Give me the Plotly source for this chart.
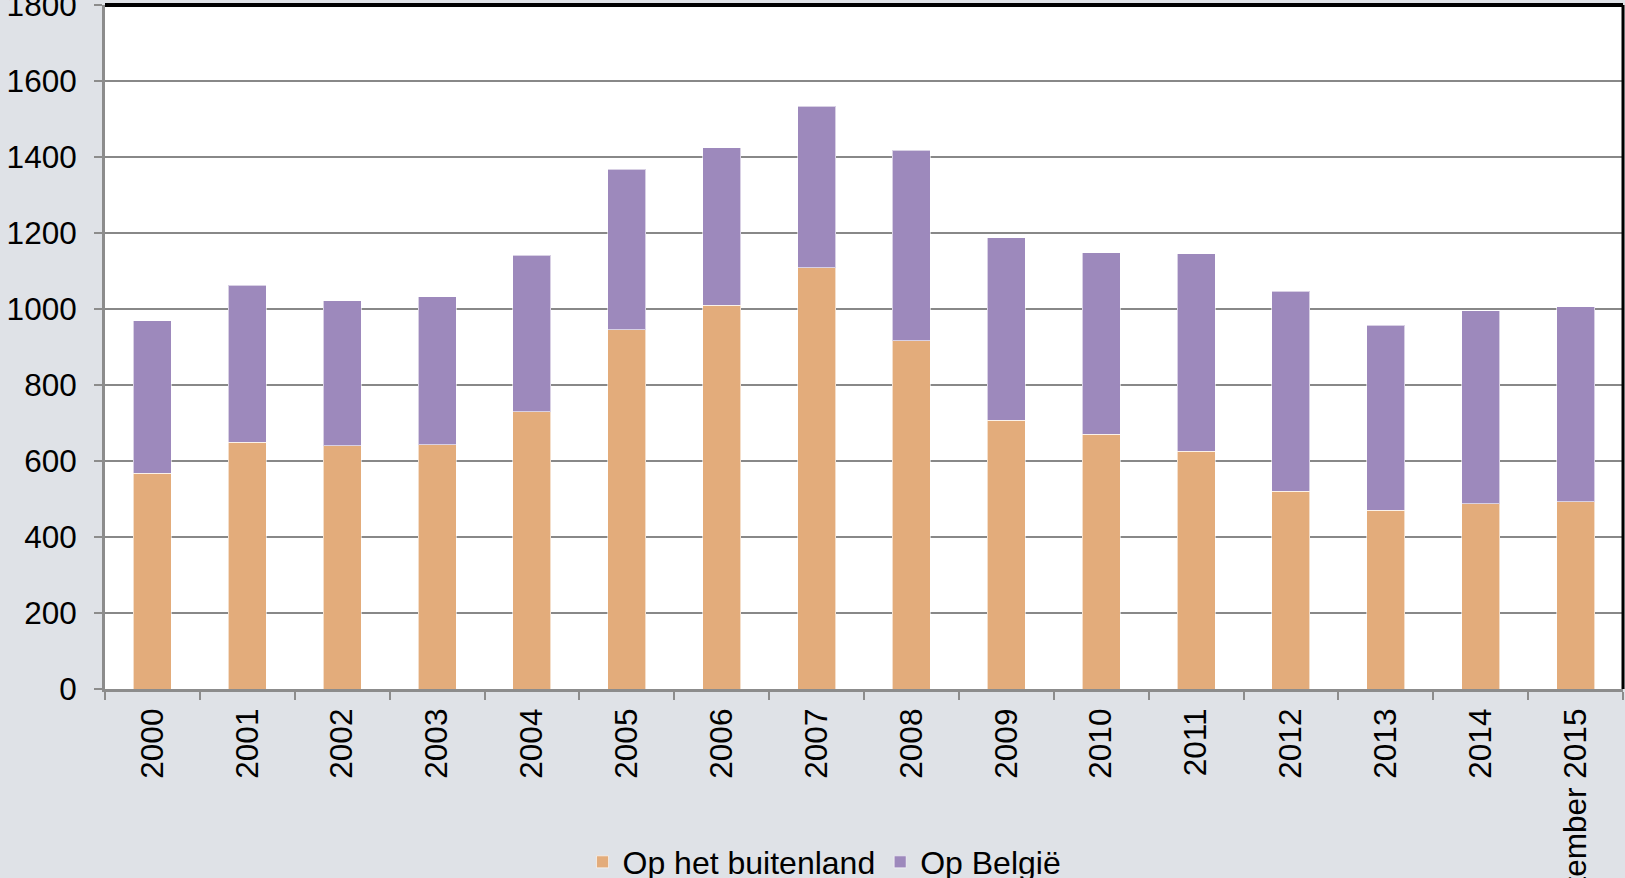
import plotly.graph_objects as go

years = ["2000", "2001", "2002", "2003", "2004", "2005", "2006", "2007",
         "2008", "2009", "2010", "2011", "2012", "2013", "2014", "September 2015"]
op_het_buitenland = [568, 650, 640, 643, 730, 945, 1010, 1108, 916, 707, 671, 626, 521, 471, 487, 493]
op_belgie = [401, 412, 382, 389, 411, 423, 415, 425, 502, 481, 477, 519, 526, 486, 509, 513]
y_ticks = [0, 200, 400, 600, 800, 1000, 1200, 1400, 1600, 1800]

FONT = "Liberation Sans, Arial, sans-serif"

fig = go.Figure()
fig.add_trace(go.Bar(
    x=years, y=op_het_buitenland, name="Op het buitenland",
    marker=dict(color="#E3AC7B", line=dict(color="rgba(255,255,255,0.6)", width=1)),
))
fig.add_trace(go.Bar(
    x=years, y=op_belgie, name="Op België",
    marker=dict(color="#9D89BC", line=dict(color="rgba(255,255,255,0.6)", width=1)),
))

fig.update_layout(
    barmode="stack",
    bargap=0.6,
    width=1625, height=878,
    margin=dict(l=105, r=2, t=5, b=189, pad=0, autoexpand=False),
    paper_bgcolor="#DFE2E7",
    plot_bgcolor="#FFFFFF",
    font=dict(family=FONT, size=31.5, color="#000000"),
    showlegend=True,
    legend=dict(
        orientation="h", x=0.474, xanchor="center", y=-0.253, yanchor="middle",
        font=dict(family=FONT, size=32, color="#000000"),
        bgcolor="rgba(0,0,0,0)", traceorder="normal", itemwidth=30,
    ),
    xaxis=dict(
        type="category", tickangle=-90, showgrid=False, automargin=False,
        showline=True, linecolor="#8C8C8C", linewidth=3,
        ticks="outside", tickson="boundaries", ticklen=8, tickcolor="#8C8C8C", tickwidth=2,
        tickfont=dict(family=FONT, size=31.5, color="#000000"),
        ticklabelstandoff=4, ticklabeloverflow="allow",
        range=[-0.5, 15.5],
    ),
    yaxis=dict(
        range=[0, 1800], tickvals=y_ticks, showgrid=True, gridcolor="#888888", gridwidth=2,
        showline=True, linecolor="#8C8C8C", linewidth=3, automargin=False,
        ticks="outside", ticklen=8, tickcolor="#8C8C8C", tickwidth=2,
        tickfont=dict(family=FONT, size=31.5, color="#000000"),
        ticklabelstandoff=11, ticklabeloverflow="allow", zeroline=False,
    ),
    shapes=[
        dict(type="line", xref="paper", yref="paper", x0=0, x1=1, y0=1, y1=1,
             line=dict(color="#000000", width=4)),
        dict(type="line", xref="paper", yref="paper", x0=1, x1=1, y0=0, y1=1,
             line=dict(color="#000000", width=3)),
    ],
)

fig.write_html("out.html", config={"displayModeBar": False},
               post_script="document.body.style.margin='0';")
